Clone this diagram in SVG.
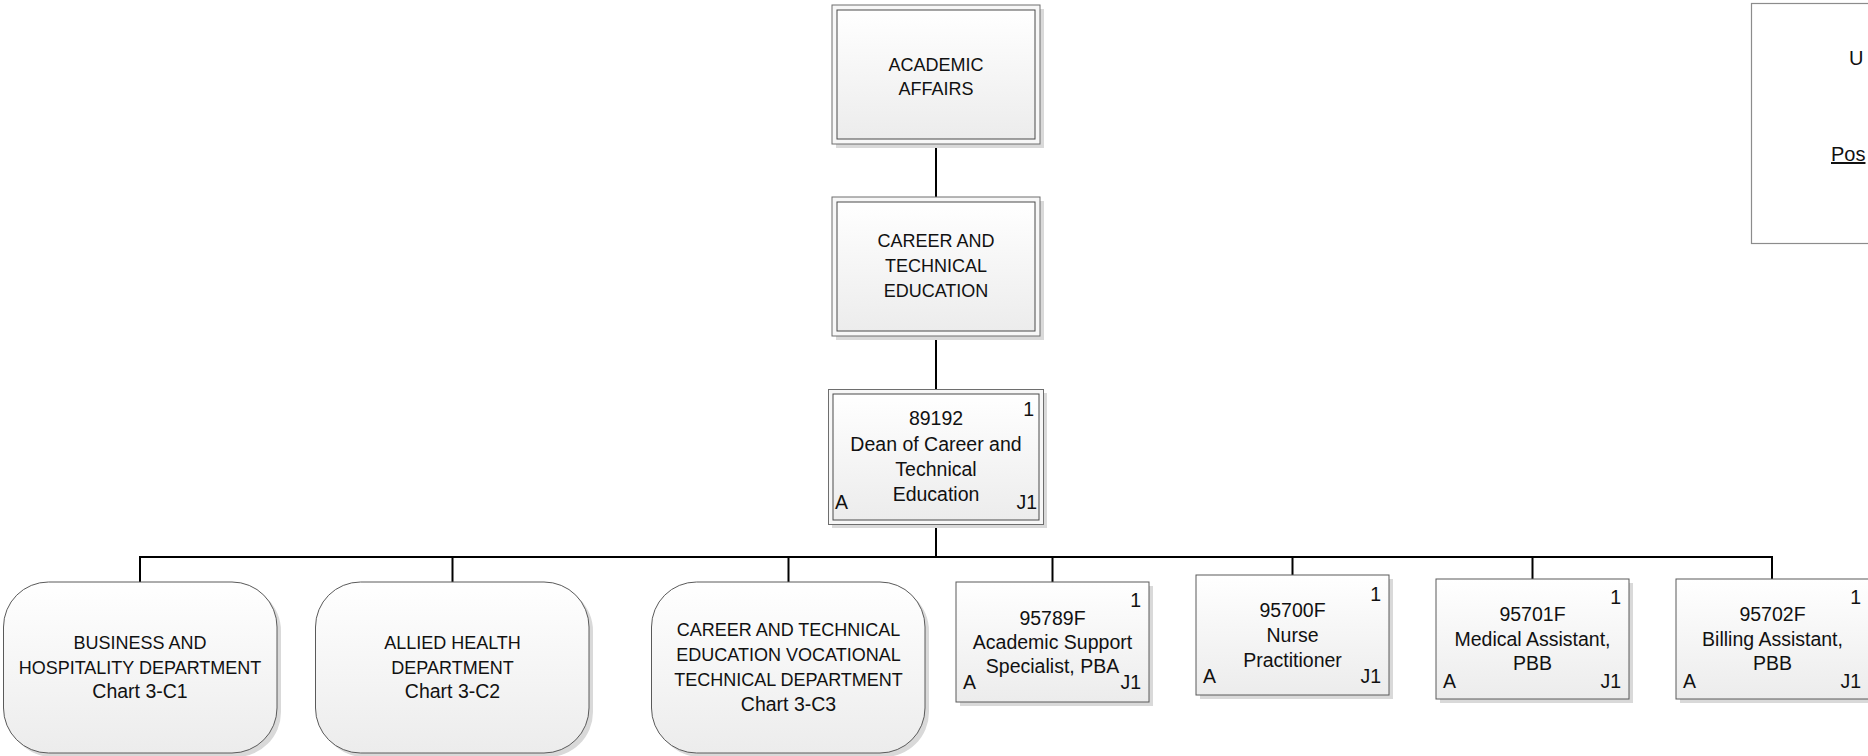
<svg xmlns="http://www.w3.org/2000/svg" width="1868" height="756" viewBox="0 0 1868 756">
<defs>
<linearGradient id="g" x1="0" y1="0" x2="0" y2="1">
<stop offset="0" stop-color="#ffffff"/>
<stop offset="1" stop-color="#ececec"/>
</linearGradient>
<style>
.t{font-family:"Liberation Sans",Arial,sans-serif;font-size:19.5px;fill:#111}
.uc{font-size:18px}
.lg{font-size:20px}
.c{text-anchor:middle}
.e{text-anchor:end}
.conn{stroke:#000;stroke-width:2;fill:none}
.sh{fill:#d9d9d9}
.box{fill:url(#g);stroke:#5a5a5a;stroke-width:1}
.outer{fill:#f7f7f7;stroke:#6e6e6e;stroke-width:1}
.inner{fill:url(#g);stroke:#4a4a4a;stroke-width:1}
.leg{fill:#fff;stroke:#8c8c8c;stroke-width:1.2}
</style>
</defs>
<rect width="1868" height="756" fill="#fff"/>

<g id="connectors">
<line class="conn" x1="936" y1="144" x2="936" y2="197"/>
<line class="conn" x1="936" y1="336" x2="936" y2="389"/>
<line class="conn" x1="936" y1="524" x2="936" y2="557"/>
<polyline class="conn" points="140,582 140,557 1772,557 1772,579"/>
<line class="conn" x1="452.5" y1="557" x2="452.5" y2="582"/>
<line class="conn" x1="788.5" y1="557" x2="788.5" y2="582"/>
<line class="conn" x1="1052.5" y1="557" x2="1052.5" y2="582"/>
<line class="conn" x1="1292.5" y1="557" x2="1292.5" y2="575"/>
<line class="conn" x1="1532.5" y1="557" x2="1532.5" y2="579"/>
</g>

<g id="legend">
<rect class="leg" x="1751.5" y="3.5" width="200" height="240"/>
<text class="t lg" x="1849" y="65">U</text>
<text class="t lg" x="1831" y="161" text-decoration="underline">Pos</text>
</g>

<g id="academic-affairs">
<rect class="sh" x="836" y="9" width="208" height="139"/>
<rect class="outer" x="832" y="5" width="208" height="139"/>
<rect class="inner" x="837" y="10" width="198" height="129"/>
<text class="t uc c" x="936" y="71">ACADEMIC</text>
<text class="t uc c" x="936" y="95">AFFAIRS</text>
</g>

<g id="career-technical-education">
<rect class="sh" x="836" y="201" width="208" height="139"/>
<rect class="outer" x="832" y="197" width="208" height="139"/>
<rect class="inner" x="837" y="202" width="198" height="129"/>
<text class="t uc c" x="936" y="247">CAREER AND</text>
<text class="t uc c" x="936" y="272">TECHNICAL</text>
<text class="t uc c" x="936" y="297">EDUCATION</text>
</g>

<g id="dean-89192">
<rect class="sh" x="832" y="393" width="215" height="135"/>
<rect class="outer" x="828.5" y="389.5" width="215" height="135"/>
<rect class="inner" x="833" y="394" width="206" height="126"/>
<text class="t e" x="1034" y="416">1</text>
<text class="t c" x="936" y="425">89192</text>
<text class="t c" x="936" y="450.5">Dean of Career and</text>
<text class="t c" x="936" y="475.5">Technical</text>
<text class="t c" x="936" y="500.5">Education</text>
<text class="t" x="835" y="509">A</text>
<text class="t e" x="1037" y="509">J1</text>
</g>

<g id="business-hospitality">
<rect class="sh" x="7.5" y="586" width="273.5" height="171" rx="45"/>
<rect class="box" x="3.5" y="582" width="273.5" height="171" rx="45"/>
<text class="t uc c" x="140" y="649">BUSINESS AND</text>
<text class="t uc c" x="140" y="673.5">HOSPITALITY DEPARTMENT</text>
<text class="t c" x="140" y="698">Chart 3-C1</text>
</g>

<g id="allied-health">
<rect class="sh" x="319.5" y="586" width="273.5" height="171" rx="45"/>
<rect class="box" x="315.5" y="582" width="273.5" height="171" rx="45"/>
<text class="t uc c" x="452.5" y="649">ALLIED HEALTH</text>
<text class="t uc c" x="452.5" y="673.5">DEPARTMENT</text>
<text class="t c" x="452.5" y="698">Chart 3-C2</text>
</g>

<g id="cte-vocational">
<rect class="sh" x="655.5" y="586" width="273.5" height="171" rx="45"/>
<rect class="box" x="651.5" y="582" width="273.5" height="171" rx="45"/>
<text class="t uc c" x="788.5" y="636">CAREER AND TECHNICAL</text>
<text class="t uc c" x="788.5" y="661">EDUCATION VOCATIONAL</text>
<text class="t uc c" x="788.5" y="686">TECHNICAL DEPARTMENT</text>
<text class="t c" x="788.5" y="711">Chart 3-C3</text>
</g>

<g id="pos-95789F">
<rect class="sh" x="960" y="586" width="193" height="120"/>
<rect class="box" x="956" y="582" width="193" height="120"/>
<text class="t e" x="1141" y="607">1</text>
<text class="t c" x="1052.5" y="624.5">95789F</text>
<text class="t c" x="1052.5" y="648.5">Academic Support</text>
<text class="t c" x="1052.5" y="672.5">Specialist, PBA</text>
<text class="t" x="963" y="688.5">A</text>
<text class="t e" x="1141" y="688.5">J1</text>
</g>

<g id="pos-95700F">
<rect class="sh" x="1200" y="579" width="193" height="120"/>
<rect class="box" x="1196" y="575" width="193" height="120"/>
<text class="t e" x="1381" y="601">1</text>
<text class="t c" x="1292.5" y="617">95700F</text>
<text class="t c" x="1292.5" y="642">Nurse</text>
<text class="t c" x="1292.5" y="667">Practitioner</text>
<text class="t" x="1203" y="683">A</text>
<text class="t e" x="1381" y="683">J1</text>
</g>

<g id="pos-95701F">
<rect class="sh" x="1440" y="583" width="193" height="120"/>
<rect class="box" x="1436" y="579" width="193" height="120"/>
<text class="t e" x="1621" y="604">1</text>
<text class="t c" x="1532.5" y="621">95701F</text>
<text class="t c" x="1532.5" y="645.5">Medical Assistant,</text>
<text class="t c" x="1532.5" y="670">PBB</text>
<text class="t" x="1443" y="687.5">A</text>
<text class="t e" x="1621" y="687.5">J1</text>
</g>

<g id="pos-95702F">
<rect class="sh" x="1680" y="583" width="193" height="120"/>
<rect class="box" x="1676" y="579" width="193" height="120"/>
<text class="t e" x="1861" y="604">1</text>
<text class="t c" x="1772.5" y="621">95702F</text>
<text class="t c" x="1772.5" y="645.5">Billing Assistant,</text>
<text class="t c" x="1772.5" y="670">PBB</text>
<text class="t" x="1683" y="687.5">A</text>
<text class="t e" x="1861" y="687.5">J1</text>
</g>
</svg>
